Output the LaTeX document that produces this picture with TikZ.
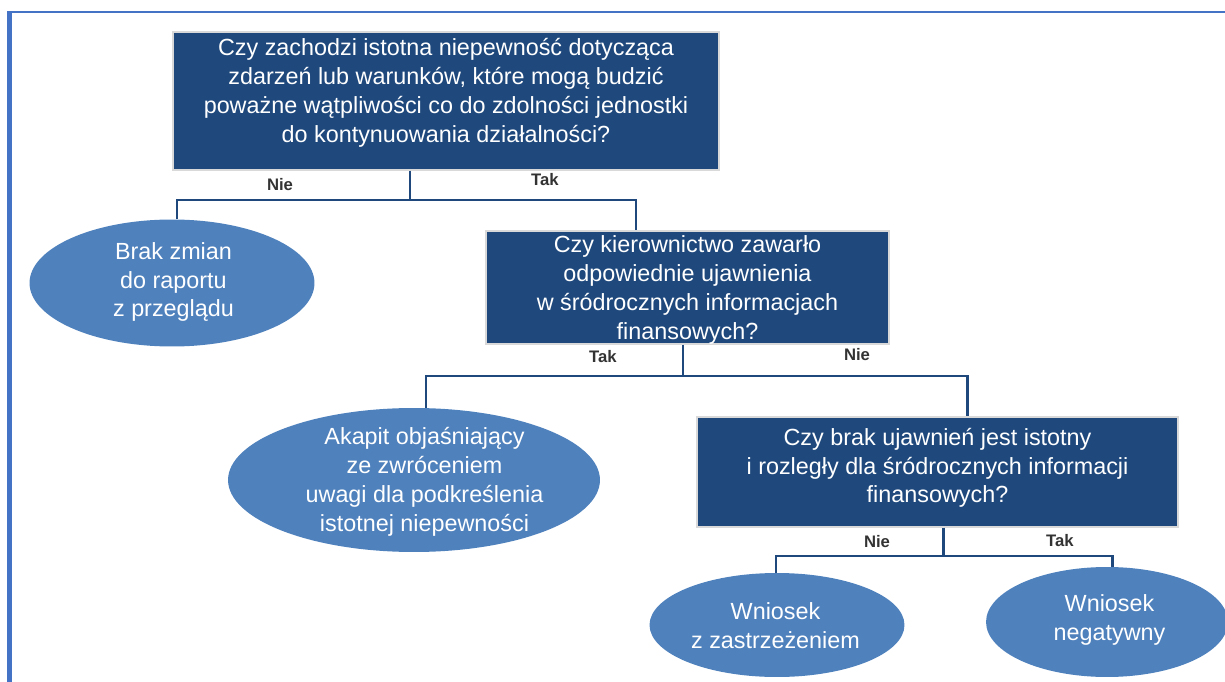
\documentclass[tikz,border=0pt]{standalone}
\usepackage{fontspec}
\setmainfont{Liberation Sans}
\usetikzlibrary{shapes.geometric,calc}
\definecolor{1f497d}{HTML}{1F497D}
\definecolor{4f81bd}{HTML}{4F81BD}
\definecolor{4472c4}{HTML}{4472C4}
\definecolor{333333}{HTML}{333333}
\definecolor{d9d9d9}{HTML}{D9D9D9}
\begin{document}
\begin{tikzpicture}[x=.02cm,y=-.02cm,
    qbox/.style={draw=d9d9d9,line width=.8pt,fill=1f497d,inner sep=0},
    leaf/.style={ellipse,fill=4f81bd,inner sep=0},
    txt/.style={text=white,align=center,inner sep=0,font=\fontsize{13.3}{16.4}\selectfont},
    ans/.style={text=333333,inner sep=0,font=\fontsize{9.5}{11}\selectfont\bfseries},
    link/.style={1f497d,line width=1.7pt}]
    \useasboundingbox(0,0)rectangle(1225,682);
    \draw[4472c4,line width=2.5pt](9.5,682)--(9.5,11);
    \draw[4472c4,line width=1.1pt](8,11.8)--(1225,11.8);
    \node[qbox,minimum width=10.92cm,minimum height=2.76cm](q1)at(446,101){};
    \node[qbox,minimum width=8.06cm,minimum height=2.26cm](q2)at(687.5,287.5){};
    \node[qbox,minimum width=9.62cm,minimum height=2.2cm](q3)at(937.5,472){};
    \node[leaf,minimum width=5.7cm,minimum height=2.54cm](e1)at(172,283){};
    \node[leaf,minimum width=7.44cm,minimum height=2.88cm](e2)at(414,480){};
    \node[leaf,minimum width=5.1cm,minimum height=2.08cm](e3)at(777,625){};
    \node[leaf,minimum width=4.84cm,minimum height=2.2cm](e4)at(1107,622){};
    \node[txt](q1t)at(446,93){Czy zachodzi istotna niepewność dotycząca\\zdarzeń lub warunków, które mogą budzić\\poważne wątpliwości co do zdolności jednostki\\do kontynuowania działalności?};
    \node[txt](q2t)at(687.5,290){Czy kierownictwo zawarło\\odpowiednie ujawnienia\\w śródrocznych informacjach\\finansowych?};
    \node[txt](q3t)at(937.5,468){Czy brak ujawnień jest istotny\\i rozległy dla śródrocznych informacji\\finansowych?};
    \node[txt](e1t)at(173.5,282){Brak zmian\\do raportu\\z przeglądu};
    \node[txt](e2t)at(424.5,482){Akapit objaśniający\\ze zwróceniem\\uwagi dla podkreślenia\\istotnej niepewności};
    \node[txt](e3t)at(775.5,626){Wniosek\\z zastrzeżeniem};
    \node[txt](e4t)at(1109.5,620){Wniosek\\negatywny};
    \coordinate(s1)at(410,200);
    \coordinate(s1l)at(177,200);
    \coordinate(s1r)at(636,200);
    \coordinate(s2)at(683,376);
    \coordinate(s2l)at(426,376);
    \coordinate(s2r)at(967,376);
    \coordinate(s3)at(943,556);
    \coordinate(s3l)at(776,556);
    \coordinate(s3r)at(1112,556);
    \draw[link](q1.south -| s1)--(s1);
    \draw[link](e1.north -| s1l)|-(s1r)--(q2.north -| s1r);
    \draw[link](q2.south -| s2)--(s2);
    \draw[link](e2.north -| s2l)|-(s2r)--(q3.north -| s2r);
    \draw[link](q3.south -| s3)--(s3);
    \draw[link](e3.north -| s3l)|-(s3r)--(e4.north -| s3r);
    \node[ans](n1)at(280,185){Nie};
    \node[ans](t1)at(545,180){Tak};
    \node[ans](t2)at(603,357){Tak};
    \node[ans](n2)at(857,355){Nie};
    \node[ans](n3)at(877,542){Nie};
    \node[ans](t3)at(1060,541){Tak};
\end{tikzpicture}
\end{document}
